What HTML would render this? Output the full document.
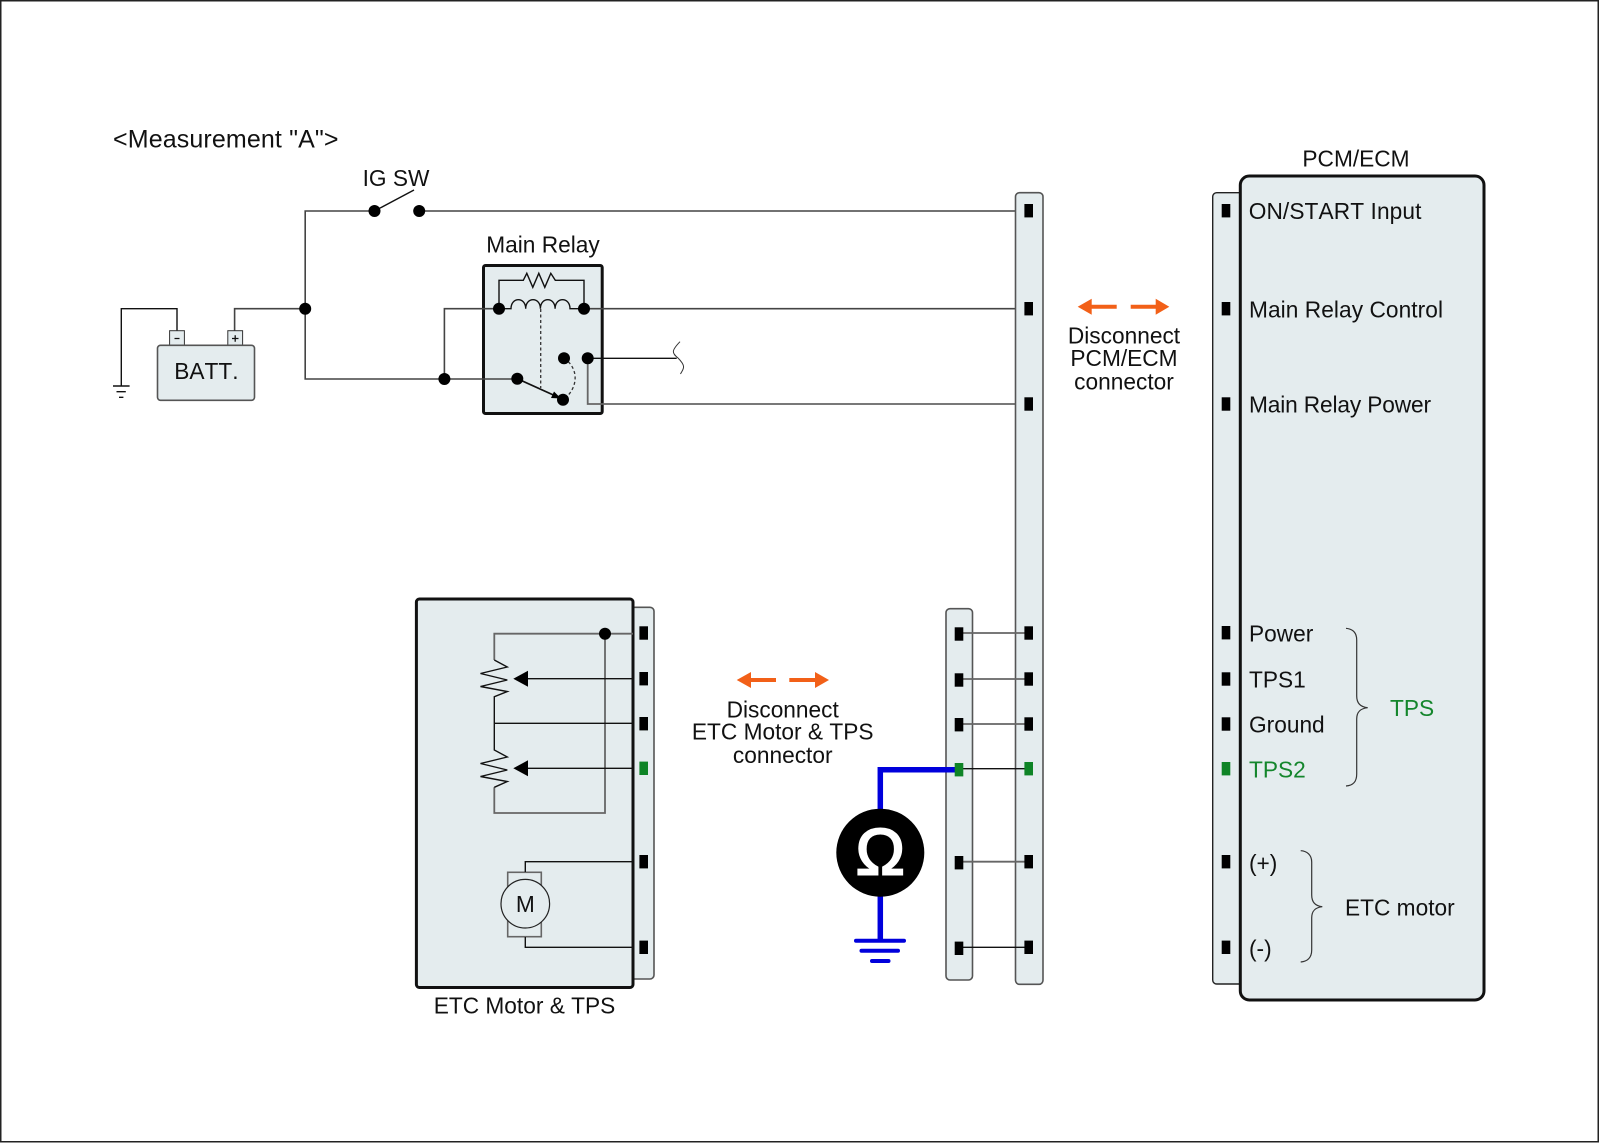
<!DOCTYPE html>
<html><head><meta charset="utf-8"><style>
html,body{margin:0;padding:0;background:#fff}
svg{display:block}
text{font-family:"Liberation Sans",Arial,sans-serif;font-size:22.7px;fill:#111;font-kerning:none}
.m{text-anchor:middle}
.w{fill:none;stroke:#444;stroke-width:1.6}
.k{fill:none;stroke:#111;stroke-width:1.4}
.g{fill:none;stroke:#666;stroke-width:1.8}
.b{fill:#e4ecee;stroke:#555;stroke-width:1.6}
.o{fill:#f26018}
.p{fill:#000}
.gr{fill:#0e8426}
.bl{fill:none;stroke:#0000dc;stroke-width:5.5}
.gt{fill:#14862c}
</style></head><body>
<svg width="1600" height="1143" viewBox="0 0 1600 1143" xmlns="http://www.w3.org/2000/svg">
<rect width="1600" height="1143" fill="#fff"/>
<rect x="0.75" y="0.75" width="1597.5" height="1141" fill="none" stroke="#222" stroke-width="1.5"/>

<text x="113" y="147.5" style="font-size:25px" textLength="225.5">&lt;Measurement "A"&gt;</text>
<text x="396" y="186" class="m">IG SW</text>
<text x="543" y="252.7" class="m">Main Relay</text>

<!-- battery -->
<path class="k" d="M177,331V308.7H121.3V386"/>
<path class="k" d="M113,386h16.6M116.5,391.7h9.3M119,397.3h4.4"/>
<path class="w" d="M234.6,331V308.7H305.2"/>
<rect x="169.6" y="330.7" width="14.8" height="15" fill="#e4ecee" stroke="#333"/>
<rect x="227.8" y="330.7" width="14.8" height="15" fill="#e4ecee" stroke="#333"/>
<path d="M174.5,338.5h5M232,338.5h6.5M235.2,335.2v6.5" stroke="#111" stroke-width="1.3" fill="none"/>
<rect x="157.5" y="345.3" width="97" height="55" rx="3" class="b"/>
<text x="206.4" y="379" class="m">BATT.</text>

<!-- relay body -->
<rect x="483.5" y="265.5" width="118.7" height="148" rx="2" fill="#e4ecee" stroke="#111" stroke-width="3"/>

<!-- main wires -->
<path class="w" d="M1029,211H419M374.5,211H305.2V379H517"/>
<path class="k" d="M374.5,211L414,190"/>
<circle cx="374.5" cy="211" r="6"/>
<circle cx="419.2" cy="211" r="6"/>
<circle cx="305.2" cy="308.7" r="6"/>

<!-- relay internals -->
<path class="w" d="M444.4,379V308.7H499"/>
<path class="w" d="M584,308.7H1029"/>
<path class="k" d="M587.7,358.3H676.7"/>
<path class="g" d="M587.7,358.3V404H1029"/>
<path class="k" d="M499,308.7V280.3H523.3l3.5,-7 6,14 6,-14 6,14 6,-14 4.5,7H584V308.7"/>
<path class="k" d="M499,308.7H511c0,-12 14.7,-12 14.7,0c0,-12 14.7,-12 14.7,0c0,-12 14.7,-12 14.7,0c0,-12 14.9,-12 14.9,0H584"/>
<path d="M540.7,309V388" fill="none" stroke="#333" stroke-width="1.3" stroke-dasharray="3 2.5"/>
<path d="M564,358.3C579,368 579,388 563,400" fill="none" stroke="#333" stroke-width="1.3" stroke-dasharray="3 2.5"/>
<path class="k" d="M517.3,378.7L560,398" style="stroke-width:1.7"/>
<path d="M561,398.5L551,398L554,391.5Z"/>
<circle cx="444.4" cy="379" r="6"/>
<circle cx="499" cy="308.7" r="6"/>
<circle cx="584" cy="308.7" r="6"/>
<circle cx="564" cy="358.3" r="6"/>
<circle cx="587.7" cy="358.3" r="6"/>
<circle cx="517.3" cy="378.7" r="6"/>
<circle cx="563" cy="399.7" r="6"/>
<path d="M680,341.7C671,351 672,353 678,358C687,367 683,369 680.5,374" fill="none" stroke="#333" stroke-width="1"/>

<!-- connector bars -->
<rect x="1015.5" y="192.7" width="27.5" height="791.6" rx="4" class="b"/>
<rect x="946" y="608.7" width="26.5" height="371.3" rx="4" class="b"/>
<g class="p">
<rect x="1024.4" y="204" width="8.6" height="13.4"/>
<rect x="1024.4" y="302" width="8.6" height="13.4"/>
<rect x="1024.4" y="397.3" width="8.6" height="13.4"/>
</g>
<path class="g" d="M959,633H1029M959,679H1029M959,724H1029M959,861.7H1029"/>
<path class="k" d="M959,768.7H1029M959,947.3H1029"/>
<g class="p">
<rect x="1024.4" y="626.3" width="8.6" height="13.4"/>
<rect x="1024.4" y="672.3" width="8.6" height="13.4"/>
<rect x="1024.4" y="717.3" width="8.6" height="13.4"/>
<rect x="1024.4" y="855" width="8.6" height="13.4"/>
<rect x="1024.4" y="940.6" width="8.6" height="13.4"/>
<rect x="954.7" y="627.3" width="8.6" height="13.4"/>
<rect x="954.7" y="673.3" width="8.6" height="13.4"/>
<rect x="954.7" y="718" width="8.6" height="13.4"/>
<rect x="954.7" y="856" width="8.6" height="13.4"/>
<rect x="954.7" y="941.6" width="8.6" height="13.4"/>
</g>
<rect x="1024.4" y="762" width="8.6" height="13.4" class="gr"/>

<!-- ohmmeter -->
<path class="bl" d="M958,769.7H880.3V852.7M880.3,852V941"/>
<rect x="954.7" y="763" width="8.6" height="13.4" class="gr"/>
<path fill="none" stroke="#0000dc" stroke-width="4" stroke-linecap="round" d="M856,940.7H904M861.5,950.7H898M872,961H888.5"/>
<circle cx="880.3" cy="852.7" r="44"/>
<text x="880.3" y="874.5" class="m" style="font-size:66px;fill:#fff;stroke:#fff;stroke-width:2">Ω</text>

<!-- PCM -->
<rect x="1212.7" y="192.7" width="40" height="791.3" rx="4" fill="#e4ecee" stroke="#222" stroke-width="1.4"/>
<rect x="1240.3" y="176" width="243.7" height="824" rx="9" fill="#e4ecee" stroke="#111" stroke-width="3"/>
<text x="1356" y="166.7" class="m">PCM/ECM</text>
<g class="p">
<rect x="1221.7" y="204" width="8.6" height="13.4"/>
<rect x="1221.7" y="302" width="8.6" height="13.4"/>
<rect x="1221.7" y="397.3" width="8.6" height="13.4"/>
<rect x="1221.7" y="626" width="8.6" height="13.4"/>
<rect x="1221.7" y="672.3" width="8.6" height="13.4"/>
<rect x="1221.7" y="717.3" width="8.6" height="13.4"/>
<rect x="1221.7" y="855" width="8.6" height="13.4"/>
<rect x="1221.7" y="940.6" width="8.6" height="13.4"/>
</g>
<rect x="1221.7" y="762" width="8.6" height="13.4" class="gr"/>
<text x="1248.7" y="219" textLength="172.7">ON/START Input</text>
<text x="1249" y="317.4" textLength="194">Main Relay Control</text>
<text x="1249" y="412.3" textLength="182">Main Relay Power</text>
<text x="1249" y="641.7">Power</text>
<text x="1249" y="687.3">TPS1</text>
<text x="1249" y="732.3">Ground</text>
<text x="1249" y="777.3" class="gt">TPS2</text>
<text x="1249" y="871">(+)</text>
<text x="1249" y="956.7">(-)</text>
<text x="1390" y="716" class="gt">TPS</text>
<text x="1345" y="915.3">ETC motor</text>
<path fill="none" stroke="#333" stroke-width="1.2" d="M1346,628.3C1353,629 1356.7,633 1356.7,640V696C1356.7,703 1360,707 1367.7,707.7C1360,708.5 1356.7,712 1356.7,719V774C1356.7,782 1353,785.5 1346,786"/>
<path fill="none" stroke="#333" stroke-width="1.2" d="M1300.7,850.7C1307,851 1311.7,855 1311.7,862V895C1311.7,902 1315,906 1322.3,906.7C1315,907.5 1311.7,911 1311.7,918V950C1311.7,958 1307,961.5 1300.7,962"/>

<!-- arrows -->
<path class="o" d="M1077.7,306.7L1091.7,298.7V304.7H1116.7V308.7H1091.7V314.7Z"/>
<path class="o" d="M1169.3,306.7L1155.7,298.7V304.7H1130.7V308.7H1155.7V314.7Z"/>
<text x="1124" y="343.3" class="m">Disconnect</text>
<text x="1124" y="366" class="m">PCM/ECM</text>
<text x="1124" y="389.5" class="m">connector</text>
<path class="o" d="M736.7,680L751,672V678H776V682H751V688Z"/>
<path class="o" d="M829,680L815,672V678H789.3V682H815V688Z"/>
<text x="782.7" y="717.3" class="m">Disconnect</text>
<text x="782.7" y="739.3" class="m">ETC Motor &amp; TPS</text>
<text x="782.7" y="762.8" class="m">connector</text>

<!-- ETC box -->
<rect x="625" y="607.3" width="29" height="371.7" rx="4" class="b"/>
<rect x="416.4" y="599" width="216.6" height="388.5" rx="3" fill="#e4ecee" stroke="#111" stroke-width="3"/>
<g class="p">
<rect x="639.4" y="626.3" width="8.6" height="13.4"/>
<rect x="639.4" y="672" width="8.6" height="13.4"/>
<rect x="639.4" y="717" width="8.6" height="13.4"/>
<rect x="639.4" y="855" width="8.6" height="13.4"/>
<rect x="639.4" y="940.6" width="8.6" height="13.4"/>
</g>
<rect x="639.4" y="761.6" width="8.6" height="13.4" class="gr"/>
<path class="g" d="M633,633.7H494.3V660M605,633.7V813H494.3V787.3"/>
<path class="k" d="M494.3,660L507.3,667L480.5,673.5L507.3,680L480.5,686.5L507.3,691.5L494.3,696.7V750L507.3,757L480.5,763.5L507.3,770L480.5,776.5L507.3,781.5L494.3,787.3"/>
<path class="k" d="M494.3,723.3H633M528,678.7H633M528,768.3H633"/>
<path d="M513.3,678.7L528,670.7V686.7Z"/>
<path d="M513.3,768.3L528,760.3V776.3Z"/>
<circle cx="605" cy="633.7" r="6"/>
<rect x="507.7" y="872.3" width="33.6" height="64.4" fill="none" stroke="#666" stroke-width="1.6"/>
<circle cx="525.3" cy="903.7" r="24.3" fill="#e4ecee" stroke="#222" stroke-width="1.2"/>
<path class="k" d="M525.3,872V861.7H633M525.3,937V947.3H633"/>
<text x="525.3" y="912" class="m">M</text>
<text x="524.5" y="1013.3" class="m">ETC Motor &amp; TPS</text>
</svg>
</body></html>
